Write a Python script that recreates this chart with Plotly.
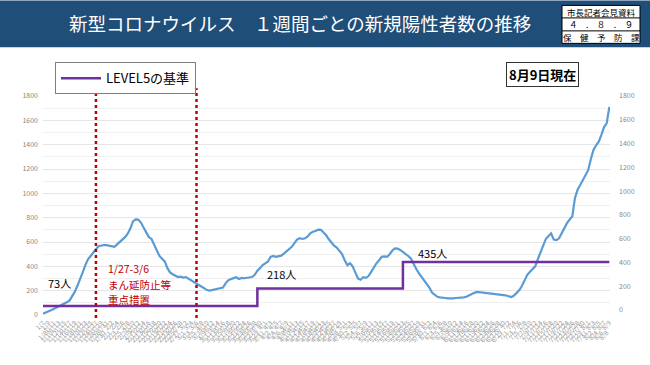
import datetime as dt
import plotly.graph_objects as go

# ---------------- data ----------------
start_date = dt.date(2021, 1, 7)
weekly_cases = [
    10, 18, 28, 38, 50, 60, 72, 85, 95, 105,
    118, 150, 190, 240, 288, 350, 410, 458, 485, 518,
    540, 565, 572, 575, 574, 570, 565, 560, 580, 600,
    618, 640, 668, 710, 770, 786, 784, 760, 720, 680,
    640, 625, 580, 525, 485, 462, 440, 385, 350, 335,
    320, 312, 315, 308, 312, 300, 285, 275, 262, 245,
    232, 215, 205, 200, 205, 208, 212, 218, 225, 260,
    285, 295, 305, 310, 296, 305, 302, 305, 306, 312,
    330, 365, 385, 410, 425, 440, 478, 485, 478, 482,
    488, 505, 525, 540, 560, 590, 620, 632, 625, 630,
    645, 672, 685, 690, 702, 700, 680, 655, 622, 595,
    570, 555, 530, 500, 450, 410, 425, 400, 350, 300,
    290, 310, 305, 320, 355, 395, 425, 450, 478, 482,
    478, 500, 530, 548, 545, 535, 520, 505, 485, 465,
    420, 380, 345, 315, 285, 260, 225, 185, 165, 150,
    145, 140, 140, 137, 135, 137, 140, 140, 143, 145,
    150, 162, 170, 182, 190, 188, 185, 180, 178, 178,
    175, 173, 170, 168, 164, 160, 155, 148, 160, 185,
    205, 240, 280, 330, 356, 375, 400, 460, 520, 580,
    625, 650, 670, 620, 615, 630, 670, 720, 755, 785,
    810, 960, 1030, 1068, 1105, 1150, 1190, 1280, 1356, 1395,
    1424, 1480, 1545, 1575, 1710,
]
dates = [start_date + dt.timedelta(days=i) for i in range(len(weekly_cases))]

level_dates = ["2021-01-07", "2021-03-29", "2021-05-23", "2021-08-09"]
level_values = [73, 218, 435, 435]
level_labels = ["73人", "218人", "435人"]
level_label_dates = ["2021-01-08", "2021-04-01", "2021-05-28"]

measure_dates = ["2021-01-27", "2021-03-06"]
measure_text = ["1/27-3/6", "まん延防止等", "重点措置"]

y_ticks = list(range(0, 1801, 200))
tick_dates_a = dates[::2]
tick_dates_b = dates[1::2]
tick_text_a = [f"{d.month}/{d.day}" for d in tick_dates_a]
tick_text_b = [f"{d.month}/{d.day}" for d in tick_dates_b]

title_text = "新型コロナウイルス　１週間ごとの新規陽性者数の推移"
stamp_lines = ["市長記者会見資料", "４　.　８　.　９", "保　健　予　防　課"]
asof_text = "8月9日現在"
legend_name = "LEVEL5の基準"

# ---------------- layout geometry ----------------
W, H = 650, 365
L, R, T, B = 43, 610, 95.7, 315


def px(x):
    return (x - L) / (R - L)


def py(y):
    return (B - y) / (B - T)


FONT = "Noto Sans CJK JP"

fig = go.Figure()

fig.add_trace(go.Scatter(
    x=dates, y=weekly_cases, mode="lines",
    line=dict(color="#5b9bd5", width=2.2),
    showlegend=False, hoverinfo="skip",
))
fig.add_trace(go.Scatter(
    x=level_dates, y=level_values, mode="lines", line_shape="hv",
    line=dict(color="#7030a0", width=2.5),
    name=legend_name, showlegend=True,
))
# invisible trace that activates the secondary axes
fig.add_trace(go.Scatter(
    x=[dates[0]], y=[0], xaxis="x2", yaxis="y2", mode="markers",
    marker=dict(opacity=0), showlegend=False, hoverinfo="skip",
))

shapes = []
shapes.append(dict(type="rect", xref="paper", yref="paper",
                   x0=px(0), x1=px(W), y0=py(47), y1=py(0),
                   fillcolor="#1f4e79", line=dict(width=0), layer="below"))
shapes.append(dict(type="rect", xref="paper", yref="paper",
                   x0=px(562), x1=px(640), y0=py(43), y1=py(5),
                   fillcolor="white", line=dict(color="black", width=1)))
for yy in (17.5, 30.5):
    shapes.append(dict(type="line", xref="paper", yref="paper",
                       x0=px(562), x1=px(640), y0=py(yy), y1=py(yy),
                       line=dict(color="black", width=1)))
for d in measure_dates:
    shapes.append(dict(type="line", xref="x", yref="paper",
                       x0=d, x1=d, y0=py(318), y1=py(88),
                       line=dict(color="#c00000", width=2.5, dash="dot")))

annotations = []
annotations.append(dict(xref="paper", yref="paper", x=px(300), y=py(23),
                        text=title_text, showarrow=False,
                        font=dict(size=18.5, color="white", family=FONT),
                        xanchor="center", yanchor="middle"))
for txt, yy in zip(stamp_lines, (11.3, 24, 36.8)):
    annotations.append(dict(xref="paper", yref="paper", x=px(601), y=py(yy),
                            text=txt, showarrow=False,
                            font=dict(size=8.5, color="black", family=FONT),
                            xanchor="center", yanchor="middle"))
annotations.append(dict(xref="paper", yref="paper", x=px(542), y=py(74),
                        text="<b>" + asof_text + "</b>", showarrow=False,
                        font=dict(size=13, color="black", family=FONT),
                        bordercolor="#333", borderwidth=1, borderpad=2,
                        bgcolor="white", xanchor="center", yanchor="middle"))
for txt, d, v, ys in zip(level_labels, level_label_dates, level_values[:3],
                         (23, 14, 9)):
    annotations.append(dict(x=d, y=v, xref="x", yref="y", text=txt,
                            showarrow=False, yshift=ys,
                            font=dict(size=11, color="black", family=FONT),
                            xanchor="left", yanchor="middle"))
for txt, yy in zip(measure_text, (268.5, 284, 299.5)):
    annotations.append(dict(xref="x", yref="paper", x="2021-01-31", y=py(yy),
                            text=txt, showarrow=False, borderpad=0,
                            font=dict(size=10.5, color="#c00000", family=FONT),
                            xanchor="left", yanchor="middle"))

xrange = [dt.date(2021, 1, 7), dt.datetime(2021, 8, 9, 6)]
tickfont_x = dict(size=6.5, color="#999")

fig.update_layout(
    width=W, height=H,
    margin=dict(l=L, r=W - R, t=T, b=H - B, pad=0),
    paper_bgcolor="white", plot_bgcolor="white",
    font=dict(family=FONT),
    shapes=shapes, annotations=annotations,
    legend=dict(x=px(55), y=py(62), xanchor="left", yanchor="top",
                bordercolor="#7f7f7f", borderwidth=1, bgcolor="white",
                font=dict(size=13, color="black", family=FONT),
                itemwidth=40),
    xaxis=dict(
        range=xrange,
        tickmode="array", tickvals=tick_dates_a, ticktext=tick_text_a,
        tickangle=-45, tickfont=tickfont_x, ticklabelstandoff=2,
        showgrid=False, zeroline=False, showline=False, ticks="",
    ),
    xaxis2=dict(
        overlaying="x", matches="x", side="bottom", range=xrange,
        tickmode="array", tickvals=tick_dates_b, ticktext=tick_text_b,
        tickangle=-45, tickfont=tickfont_x, ticklabelstandoff=12,
        showgrid=False, zeroline=False, showline=False, ticks="",
    ),
    yaxis=dict(
        range=[0, 1800], tickvals=y_ticks,
        tickfont=dict(size=7, color="#888"),
        gridcolor="#e6e6e6", gridwidth=1, zeroline=False,
        minor=dict(dtick=100, showgrid=True, gridcolor="#f0f0f0"),
        ticks="", ticklabelstandoff=4,
    ),
    yaxis2=dict(
        overlaying="y", side="right", range=[-42, 1800], tickvals=y_ticks,
        tickfont=dict(size=7, color="#888"), showgrid=False, zeroline=False,
        ticks="", ticklabelstandoff=8,
    ),
)

fig.write_html(
    "out.html",
    config={"displayModeBar": False},
    post_script="document.body.style.margin='0';document.body.style.overflow='hidden';",
)
